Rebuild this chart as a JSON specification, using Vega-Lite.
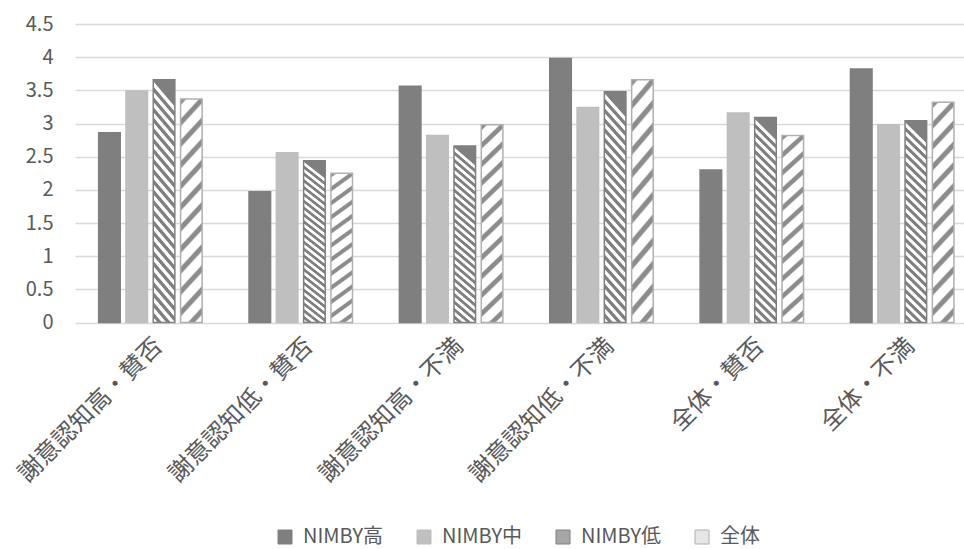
{
  "$schema": "https://vega.github.io/schema/vega-lite/v6.json",
  "width": 889,
  "height": 298.5,
  "autosize": {"type": "none"},
  "padding": {"left": 75, "top": 24, "right": 0, "bottom": 226.5},
  "background": "white",
  "config": {
    "font": "Noto Sans CJK JP",
    "view": {"stroke": null},
    "axis": {"labelColor": "#595959", "title": null}
  },
  "data": {
    "values": [
      {"category": "謝意認知高・賛否", "group": "NIMBY高", "value": 2.86},
      {"category": "謝意認知高・賛否", "group": "NIMBY中", "value": 3.49},
      {"category": "謝意認知高・賛否", "group": "NIMBY低", "value": 3.66},
      {"category": "謝意認知高・賛否", "group": "全体", "value": 3.37},
      {"category": "謝意認知低・賛否", "group": "NIMBY高", "value": 1.97},
      {"category": "謝意認知低・賛否", "group": "NIMBY中", "value": 2.56},
      {"category": "謝意認知低・賛否", "group": "NIMBY低", "value": 2.44},
      {"category": "謝意認知低・賛否", "group": "全体", "value": 2.25},
      {"category": "謝意認知高・不満", "group": "NIMBY高", "value": 3.56},
      {"category": "謝意認知高・不満", "group": "NIMBY中", "value": 2.82},
      {"category": "謝意認知高・不満", "group": "NIMBY低", "value": 2.66},
      {"category": "謝意認知高・不満", "group": "全体", "value": 2.98},
      {"category": "謝意認知低・不満", "group": "NIMBY高", "value": 3.98},
      {"category": "謝意認知低・不満", "group": "NIMBY中", "value": 3.24},
      {"category": "謝意認知低・不満", "group": "NIMBY低", "value": 3.48},
      {"category": "謝意認知低・不満", "group": "全体", "value": 3.66},
      {"category": "全体・賛否", "group": "NIMBY高", "value": 2.30},
      {"category": "全体・賛否", "group": "NIMBY中", "value": 3.16},
      {"category": "全体・賛否", "group": "NIMBY低", "value": 3.09},
      {"category": "全体・賛否", "group": "全体", "value": 2.82},
      {"category": "全体・不満", "group": "NIMBY高", "value": 3.82},
      {"category": "全体・不満", "group": "NIMBY中", "value": 2.98},
      {"category": "全体・不満", "group": "NIMBY低", "value": 3.04},
      {"category": "全体・不満", "group": "全体", "value": 3.32}
    ]
  },
  "mark": {"type": "bar", "strokeWidth": 1.5},
  "encoding": {
    "x": {
      "field": "category",
      "type": "nominal",
      "sort": null,
      "scale": {"paddingInner": 0.2737, "paddingOuter": 0.0931, "align": 0.743},
      "axis": {
        "labelAngle": -45,
        "labelFontSize": 24,
        "labelLimit": 400,
        "labelPadding": 11,
        "ticks": false,
        "domain": false,
        "grid": false
      }
    },
    "xOffset": {
      "field": "group",
      "type": "nominal",
      "sort": ["NIMBY高", "NIMBY中", "NIMBY低", "全体"],
      "scale": {"paddingInner": 0.21, "paddingOuter": 0.105}
    },
    "y": {
      "field": "value",
      "type": "quantitative",
      "scale": {"domain": [0, 4.5], "nice": false},
      "axis": {
        "values": [0, 0.5, 1, 1.5, 2, 2.5, 3, 3.5, 4, 4.5],
        "format": "~g",
        "labelFontSize": 20,
        "labelPadding": 22,
        "ticks": false,
        "tickSize": 0,
        "domain": false,
        "gridColor": "#d9d9d9",
        "gridWidth": 1.3
      }
    },
    "fill": {
      "field": "group",
      "type": "nominal",
      "sort": ["NIMBY高", "NIMBY中", "NIMBY低", "全体"],
      "scale": {
        "domain": ["NIMBY高", "NIMBY中", "NIMBY低", "全体"],
        "range": ["#7f7f7f", "#bfbfbf", "#a6a6a6", "#e6e6e6"]
      },
      "condition": [
        {
          "test": "datum.group === 'NIMBY低'",
          "value": {
            "gradient": "linear",
            "x1": 0.115, "y1": 0, "x2": 0, "y2": 1.1,
            "stops": [
              {"offset": 0, "color": "#7f7f7f"}, {"offset": 0.0144, "color": "#7f7f7f"}, {"offset": 0.019, "color": "#ffffff"}, {"offset": 0.0334, "color": "#ffffff"},
              {"offset": 0.038, "color": "#7f7f7f"}, {"offset": 0.0524, "color": "#7f7f7f"}, {"offset": 0.057, "color": "#ffffff"}, {"offset": 0.0714, "color": "#ffffff"},
              {"offset": 0.076, "color": "#7f7f7f"}, {"offset": 0.0904, "color": "#7f7f7f"}, {"offset": 0.095, "color": "#ffffff"}, {"offset": 0.1094, "color": "#ffffff"},
              {"offset": 0.114, "color": "#7f7f7f"}, {"offset": 0.1284, "color": "#7f7f7f"}, {"offset": 0.133, "color": "#ffffff"}, {"offset": 0.1474, "color": "#ffffff"},
              {"offset": 0.152, "color": "#7f7f7f"}, {"offset": 0.1664, "color": "#7f7f7f"}, {"offset": 0.171, "color": "#ffffff"}, {"offset": 0.1854, "color": "#ffffff"},
              {"offset": 0.19, "color": "#7f7f7f"}, {"offset": 0.2044, "color": "#7f7f7f"}, {"offset": 0.209, "color": "#ffffff"}, {"offset": 0.2234, "color": "#ffffff"},
              {"offset": 0.228, "color": "#7f7f7f"}, {"offset": 0.2424, "color": "#7f7f7f"}, {"offset": 0.247, "color": "#ffffff"}, {"offset": 0.2614, "color": "#ffffff"},
              {"offset": 0.266, "color": "#7f7f7f"}, {"offset": 0.2804, "color": "#7f7f7f"}, {"offset": 0.285, "color": "#ffffff"}, {"offset": 0.2994, "color": "#ffffff"},
              {"offset": 0.304, "color": "#7f7f7f"}, {"offset": 0.3184, "color": "#7f7f7f"}, {"offset": 0.323, "color": "#ffffff"}, {"offset": 0.3374, "color": "#ffffff"},
              {"offset": 0.342, "color": "#7f7f7f"}, {"offset": 0.3564, "color": "#7f7f7f"}, {"offset": 0.361, "color": "#ffffff"}, {"offset": 0.3754, "color": "#ffffff"},
              {"offset": 0.38, "color": "#7f7f7f"}, {"offset": 0.3944, "color": "#7f7f7f"}, {"offset": 0.399, "color": "#ffffff"}, {"offset": 0.4134, "color": "#ffffff"},
              {"offset": 0.418, "color": "#7f7f7f"}, {"offset": 0.4324, "color": "#7f7f7f"}, {"offset": 0.437, "color": "#ffffff"}, {"offset": 0.4514, "color": "#ffffff"},
              {"offset": 0.456, "color": "#7f7f7f"}, {"offset": 0.4704, "color": "#7f7f7f"}, {"offset": 0.475, "color": "#ffffff"}, {"offset": 0.4894, "color": "#ffffff"},
              {"offset": 0.494, "color": "#7f7f7f"}, {"offset": 0.5084, "color": "#7f7f7f"}, {"offset": 0.513, "color": "#ffffff"}, {"offset": 0.5274, "color": "#ffffff"},
              {"offset": 0.532, "color": "#7f7f7f"}, {"offset": 0.5464, "color": "#7f7f7f"}, {"offset": 0.551, "color": "#ffffff"}, {"offset": 0.5654, "color": "#ffffff"},
              {"offset": 0.57, "color": "#7f7f7f"}, {"offset": 0.5844, "color": "#7f7f7f"}, {"offset": 0.589, "color": "#ffffff"}, {"offset": 0.6034, "color": "#ffffff"},
              {"offset": 0.608, "color": "#7f7f7f"}, {"offset": 0.6224, "color": "#7f7f7f"}, {"offset": 0.627, "color": "#ffffff"}, {"offset": 0.6414, "color": "#ffffff"},
              {"offset": 0.646, "color": "#7f7f7f"}, {"offset": 0.6604, "color": "#7f7f7f"}, {"offset": 0.665, "color": "#ffffff"}, {"offset": 0.6794, "color": "#ffffff"},
              {"offset": 0.684, "color": "#7f7f7f"}, {"offset": 0.6984, "color": "#7f7f7f"}, {"offset": 0.703, "color": "#ffffff"}, {"offset": 0.7174, "color": "#ffffff"},
              {"offset": 0.722, "color": "#7f7f7f"}, {"offset": 0.7364, "color": "#7f7f7f"}, {"offset": 0.741, "color": "#ffffff"}, {"offset": 0.7554, "color": "#ffffff"},
              {"offset": 0.76, "color": "#7f7f7f"}, {"offset": 0.7744, "color": "#7f7f7f"}, {"offset": 0.779, "color": "#ffffff"}, {"offset": 0.7934, "color": "#ffffff"},
              {"offset": 0.798, "color": "#7f7f7f"}, {"offset": 0.8124, "color": "#7f7f7f"}, {"offset": 0.817, "color": "#ffffff"}, {"offset": 0.8314, "color": "#ffffff"},
              {"offset": 0.836, "color": "#7f7f7f"}, {"offset": 0.8504, "color": "#7f7f7f"}, {"offset": 0.855, "color": "#ffffff"}, {"offset": 0.8694, "color": "#ffffff"},
              {"offset": 0.874, "color": "#7f7f7f"}, {"offset": 0.8884, "color": "#7f7f7f"}, {"offset": 0.893, "color": "#ffffff"}, {"offset": 0.9074, "color": "#ffffff"},
              {"offset": 0.912, "color": "#7f7f7f"}, {"offset": 0.9264, "color": "#7f7f7f"}, {"offset": 0.931, "color": "#ffffff"}, {"offset": 0.9454, "color": "#ffffff"},
              {"offset": 0.95, "color": "#7f7f7f"}, {"offset": 0.9644, "color": "#7f7f7f"}, {"offset": 0.969, "color": "#ffffff"}, {"offset": 0.9834, "color": "#ffffff"},
              {"offset": 0.988, "color": "#7f7f7f"}, {"offset": 1, "color": "#7f7f7f"}
            ]
          }
        },
        {
          "test": "datum.group === '全体'",
          "value": {
            "gradient": "linear",
            "x1": 0, "y1": 0, "x2": 0.115, "y2": 1.1,
            "stops": [
              {"offset": 0, "color": "#8c8c8c"}, {"offset": 0.021, "color": "#8c8c8c"}, {"offset": 0.03, "color": "#ffffff"}, {"offset": 0.077, "color": "#ffffff"},
              {"offset": 0.085, "color": "#8c8c8c"}, {"offset": 0.106, "color": "#8c8c8c"}, {"offset": 0.115, "color": "#ffffff"}, {"offset": 0.162, "color": "#ffffff"},
              {"offset": 0.17, "color": "#8c8c8c"}, {"offset": 0.191, "color": "#8c8c8c"}, {"offset": 0.2, "color": "#ffffff"}, {"offset": 0.247, "color": "#ffffff"},
              {"offset": 0.255, "color": "#8c8c8c"}, {"offset": 0.276, "color": "#8c8c8c"}, {"offset": 0.285, "color": "#ffffff"}, {"offset": 0.332, "color": "#ffffff"},
              {"offset": 0.34, "color": "#8c8c8c"}, {"offset": 0.361, "color": "#8c8c8c"}, {"offset": 0.37, "color": "#ffffff"}, {"offset": 0.417, "color": "#ffffff"},
              {"offset": 0.425, "color": "#8c8c8c"}, {"offset": 0.446, "color": "#8c8c8c"}, {"offset": 0.455, "color": "#ffffff"}, {"offset": 0.502, "color": "#ffffff"},
              {"offset": 0.51, "color": "#8c8c8c"}, {"offset": 0.531, "color": "#8c8c8c"}, {"offset": 0.54, "color": "#ffffff"}, {"offset": 0.587, "color": "#ffffff"},
              {"offset": 0.595, "color": "#8c8c8c"}, {"offset": 0.616, "color": "#8c8c8c"}, {"offset": 0.625, "color": "#ffffff"}, {"offset": 0.672, "color": "#ffffff"},
              {"offset": 0.68, "color": "#8c8c8c"}, {"offset": 0.701, "color": "#8c8c8c"}, {"offset": 0.71, "color": "#ffffff"}, {"offset": 0.757, "color": "#ffffff"},
              {"offset": 0.765, "color": "#8c8c8c"}, {"offset": 0.786, "color": "#8c8c8c"}, {"offset": 0.795, "color": "#ffffff"}, {"offset": 0.842, "color": "#ffffff"},
              {"offset": 0.85, "color": "#8c8c8c"}, {"offset": 0.871, "color": "#8c8c8c"}, {"offset": 0.88, "color": "#ffffff"}, {"offset": 0.927, "color": "#ffffff"},
              {"offset": 0.935, "color": "#8c8c8c"}, {"offset": 0.956, "color": "#8c8c8c"}, {"offset": 0.965, "color": "#ffffff"}, {"offset": 1, "color": "#ffffff"}
            ]
          }
        }
      ],
      "legend": {
        "title": null,
        "orient": "none",
        "legendX": 200,
        "legendY": 503,
        "direction": "horizontal",
        "symbolType": "square",
        "symbolSize": 196,
        "symbolStrokeWidth": 1,
        "labelFontSize": 20,
        "labelColor": "#595959",
        "labelOffset": 8,
        "columnPadding": 30
      }
    },
    "stroke": {
      "field": "group",
      "type": "nominal",
      "sort": ["NIMBY高", "NIMBY中", "NIMBY低", "全体"],
      "scale": {
        "domain": ["NIMBY高", "NIMBY中", "NIMBY低", "全体"],
        "range": ["#7f7f7f", "#bfbfbf", "#7f7f7f", "#b0b0b0"]
      },
      "legend": {
        "title": null,
        "orient": "none",
        "legendX": 200,
        "legendY": 503,
        "direction": "horizontal",
        "symbolType": "square",
        "symbolSize": 196,
        "symbolStrokeWidth": 1,
        "labelFontSize": 20,
        "labelColor": "#595959",
        "labelOffset": 8,
        "columnPadding": 30
      }
    }
  }
}
